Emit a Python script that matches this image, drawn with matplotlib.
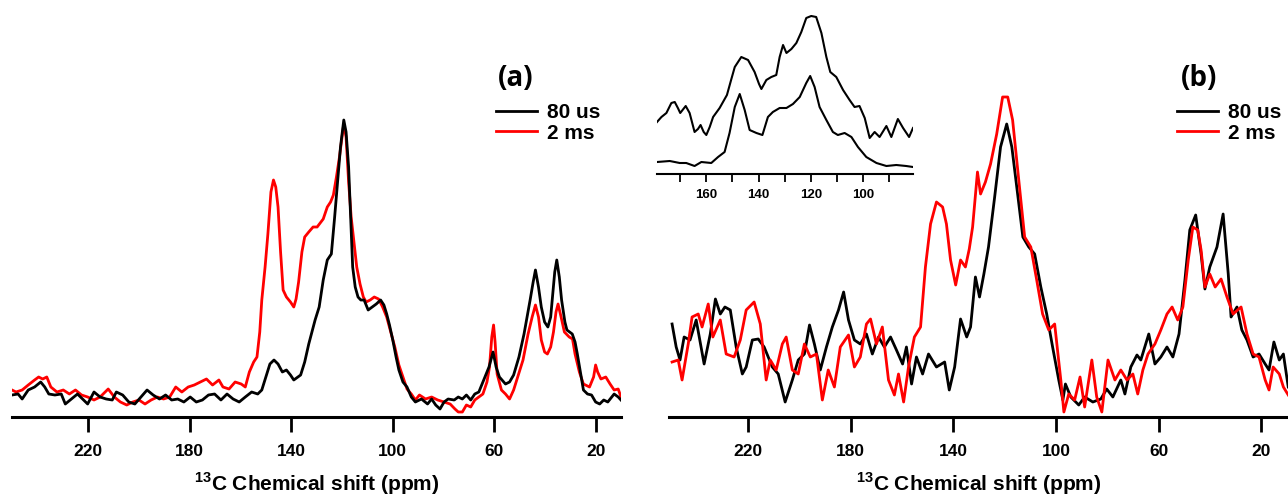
import matplotlib
matplotlib.use("Agg")
import matplotlib.pyplot as plt
from matplotlib.ticker import MultipleLocator

plt.rcParams['font.family'] = ['Liberation Sans', 'DejaVu Sans']
plt.rcParams['font.weight'] = 'bold'
plt.rcParams['mathtext.fontset'] = 'custom'
plt.rcParams['mathtext.rm'] = 'Liberation Sans:bold'
plt.rcParams['mathtext.bf'] = 'Liberation Sans:bold'

# ---- panel (a) : 80 us (black) ----
ppm_a_80 = [250.0, 247.6, 246.0, 243.6, 241.1, 238.7, 237.1, 235.5, 233.1, 230.6, 229.0, 226.6,
            224.2, 221.8, 220.2, 217.7, 215.3, 212.9, 210.5, 208.9, 206.4, 204.0, 201.6, 199.2,
            196.8, 194.4, 191.9, 189.5, 187.1, 184.7, 182.3, 179.8, 177.4, 175.0, 172.6, 170.2,
            167.7, 165.3, 162.9, 160.5, 158.1, 155.6, 153.2, 151.6, 150.0, 148.4, 146.8, 145.2,
            143.5, 141.9, 140.3, 139.0, 136.3, 134.7, 133.1, 130.6, 129.0, 127.4, 125.8, 124.2,
            122.9, 121.8, 120.6, 119.3, 118.4, 117.4, 116.6, 115.8, 114.8, 113.7, 112.6, 111.3,
            109.7, 108.1, 106.5, 104.8, 103.5, 102.4, 101.3, 100.0, 98.7, 97.6, 96.0, 94.4,
            92.7, 91.1, 88.7, 86.3, 84.7, 83.1, 81.4, 79.8, 78.2, 75.8, 74.2, 72.6,
            71.0, 69.3, 67.7, 66.1, 63.7, 62.1, 60.5, 59.3, 58.0, 55.6, 54.0, 52.4,
            50.3, 48.3, 45.9, 44.7, 43.8, 42.6, 41.5, 40.2, 38.9, 37.8, 37.0, 36.2,
            35.4, 34.4, 33.5, 32.2, 31.4, 29.3, 28.2, 27.3, 26.1, 24.9, 23.3, 21.7,
            20.1, 18.5, 16.9, 15.3, 12.8, 11.2, 9.4]
int_a_80 = [22, 23, 18, 27, 30, 35, 30, 23, 22, 23, 13, 18,
            23, 17, 13, 25, 20, 18, 17, 25, 22, 15, 13, 20,
            27, 22, 18, 22, 17, 18, 15, 20, 15, 17, 22, 23,
            17, 23, 18, 15, 20, 25, 23, 27, 40, 53, 57, 53,
            45, 47, 42, 37, 42, 55, 73, 97, 110, 137, 157, 163,
            200, 233, 270, 297, 285, 250, 200, 150, 130, 120, 117, 117,
            107, 110, 113, 117, 112, 103, 92, 77, 60, 47, 35, 30,
            20, 15, 18, 13, 18, 12, 8, 15, 18, 17, 20, 18,
            22, 17, 23, 25, 40, 50, 65, 50, 40, 33, 35, 42,
            60, 83, 117, 135, 147, 130, 110, 95, 90, 100, 123, 145,
            157, 140, 117, 95, 87, 83, 75, 63, 45, 27, 23, 22,
            15, 13, 17, 15, 23, 20, 15]

# ---- panel (a) : 2 ms (red) ----
ppm_a_2 = [250.0, 248.4, 246.0, 243.6, 241.1, 239.5, 237.9, 236.3, 234.7, 232.3, 229.8, 227.4,
           225.0, 222.6, 220.2, 217.7, 215.3, 212.1, 209.7, 207.3, 204.8, 202.4, 200.0, 197.6,
           195.2, 192.7, 190.3, 187.9, 185.5, 183.1, 180.6, 178.2, 175.8, 173.4, 171.0, 168.5,
           166.9, 164.5, 162.1, 159.7, 158.1, 156.5, 154.8, 153.5, 152.4, 151.6, 150.3, 149.2,
           148.0, 147.0, 146.1, 145.2, 144.2, 143.2, 141.9, 140.3, 139.0, 138.1, 137.1, 135.8,
           134.7, 133.1, 131.4, 129.8, 127.4, 125.8, 124.5, 123.4, 122.2, 121.0, 120.0, 119.3,
           118.4, 117.4, 116.4, 115.3, 114.2, 112.9, 111.6, 110.5, 108.9, 107.3, 105.6, 104.0,
           102.4, 100.8, 99.2, 97.6, 96.0, 94.4, 92.7, 91.1, 89.5, 87.1, 84.7, 82.3,
           79.8, 77.4, 75.5, 74.2, 72.6, 71.0, 69.3, 67.7, 66.1, 64.5, 62.9, 61.9,
           61.0, 60.3, 59.7, 58.9, 57.2, 55.6, 54.0, 52.4, 50.8, 48.7, 46.7, 45.1,
           43.8, 42.6, 41.5, 40.2, 39.1, 37.8, 36.7, 35.7, 34.9, 33.7, 32.4, 30.5,
           29.2, 28.2, 26.5, 24.9, 22.5, 20.9, 20.1, 19.3, 18.0, 16.1, 14.4, 12.8,
           11.2, 9.4]
int_a_2 = [27, 25, 27, 32, 37, 40, 38, 40, 30, 25, 27, 23,
           27, 22, 20, 17, 20, 28, 20, 15, 12, 15, 17, 13,
           17, 20, 18, 20, 30, 25, 30, 32, 35, 38, 32, 37,
           30, 28, 35, 33, 30, 45, 55, 60, 85, 117, 150, 183,
           225, 237, 230, 210, 165, 127, 120, 115, 110, 118, 135, 165,
           180, 185, 190, 190, 198, 210, 215, 222, 240, 260, 280, 293,
           280, 235, 200, 175, 150, 133, 120, 115, 117, 120, 118, 110,
           100, 85, 70, 52, 40, 28, 23, 17, 22, 18, 20, 17,
           15, 13, 8, 5, 5, 12, 10, 17, 20, 23, 35, 50,
           80, 92, 75, 43, 27, 23, 18, 27, 40, 57, 83, 100,
           112, 100, 77, 65, 63, 70, 85, 105, 113, 100, 85, 80,
           78, 63, 45, 33, 30, 40, 52, 45, 38, 40, 33, 27,
           28, 15]

# ---- panel (b) : 80 us (black) ----
ppm_b_80 = [249.7, 248.1, 246.6, 245.0, 242.7, 240.3, 237.2, 234.8, 232.8, 230.9, 229.1, 227.0,
            224.7, 222.3, 220.8, 218.4, 216.1, 213.8, 210.6, 208.3, 205.6, 202.8, 200.5, 198.1,
            196.1, 194.2, 191.9, 189.5, 187.2, 184.8, 182.8, 180.9, 178.6, 176.3, 173.9, 171.6,
            169.2, 166.9, 164.5, 162.2, 159.8, 158.3, 156.3, 154.4, 152.0, 149.7, 146.6, 143.4,
            141.6, 139.5, 137.2, 134.8, 133.3, 131.4, 129.8, 128.1, 126.3, 123.9, 121.6, 119.2,
            117.2, 114.8, 112.9, 110.6, 108.3, 105.9, 103.6, 101.3, 98.9, 97.3, 96.3, 94.2,
            91.1, 88.8, 85.6, 82.5, 80.2, 77.8, 74.7, 73.1, 70.8, 68.4, 66.9, 63.8,
            61.4, 59.1, 56.7, 54.4, 52.0, 49.7, 47.8, 45.5, 43.4, 41.9, 40.0, 37.2,
            34.8, 32.8, 31.7, 29.4, 27.5, 25.5, 23.1, 20.8, 18.4, 16.9, 15.0, 12.9,
            11.3, 9.4]
int_b_80 = [93, 70, 57, 80, 77, 97, 53, 83, 118, 103, 110, 107,
            70, 43, 50, 77, 78, 70, 50, 43, 15, 37, 57, 63,
            92, 73, 47, 70, 90, 107, 125, 97, 77, 73, 83, 63,
            80, 70, 80, 67, 53, 70, 33, 60, 43, 63, 50, 55,
            27, 50, 98, 80, 90, 140, 120, 143, 170, 220, 270, 293,
            270, 220, 180, 170, 163, 130, 103, 70, 37, 17, 33, 20,
            12, 20, 15, 18, 28, 20, 37, 23, 50, 62, 57, 83,
            53, 60, 70, 60, 83, 137, 187, 202, 163, 128, 150, 170,
            203, 143, 100, 110, 87, 77, 60, 63, 53, 47, 75, 57,
            63, 30]

# ---- panel (b) : 2 ms (red) ----
ppm_b_2 = [249.7, 247.3, 245.8, 243.4, 241.9, 239.5, 238.0, 235.6, 233.8, 230.9, 228.6, 225.5,
           223.1, 220.8, 217.7, 215.3, 213.0, 211.4, 209.1, 206.7, 205.2, 202.8, 200.5, 198.1,
           195.8, 193.4, 191.1, 188.8, 186.4, 184.1, 180.9, 178.6, 176.3, 173.9, 172.3, 170.0,
           167.7, 165.3, 163.0, 161.4, 159.4, 157.5, 155.2, 152.8, 150.9, 148.9, 146.6, 144.2,
           142.7, 141.1, 139.1, 137.2, 135.3, 133.8, 132.5, 130.6, 129.4, 127.5, 125.5, 123.1,
           120.8, 118.8, 116.9, 114.5, 112.2, 109.8, 107.5, 105.2, 102.8, 100.5, 98.1, 96.9,
           95.0, 92.7, 90.6, 88.8, 86.0, 84.1, 82.1, 79.7, 77.0, 74.7, 72.3, 70.0,
           68.1, 66.1, 64.1, 61.4, 59.1, 56.7, 54.7, 52.5, 50.5, 48.4, 46.6, 44.7,
           43.4, 41.9, 40.0, 37.9, 35.6, 33.3, 30.9, 27.8, 25.5, 23.1, 20.8, 18.4,
           16.9, 15.3, 12.9, 11.3, 9.4]
int_b_2 = [55, 57, 37, 73, 100, 103, 90, 113, 80, 97, 63, 60,
           77, 107, 115, 93, 37, 57, 47, 73, 80, 47, 43, 73,
           60, 63, 17, 47, 30, 70, 82, 50, 60, 93, 98, 73,
           90, 37, 22, 43, 15, 50, 80, 90, 150, 193, 215, 210,
           193, 157, 132, 157, 150, 168, 190, 245, 223, 235, 253, 283,
           320, 320, 297, 237, 180, 170, 137, 103, 87, 93, 37, 5,
           23, 17, 40, 10, 57, 20, 5, 57, 37, 47, 37, 43,
           23, 47, 63, 73, 87, 103, 110, 97, 110, 157, 190, 187,
           167, 130, 143, 130, 138, 120, 103, 110, 83, 63, 60, 37,
           27, 50, 43, 30, 22]

# ---- inset ----
ppm_in_2 = [178.9, 177.2, 175.3, 173.4, 172.1, 170.9, 170.0, 167.9, 166.4, 164.5, 163.2, 162.2,
            161.0, 160.0, 158.7, 157.4, 154.9, 152.1, 150.4, 149.1, 146.6, 144.0, 141.5, 139.8,
            138.9, 137.0, 135.1, 133.2, 131.9, 130.6, 129.3, 127.4, 125.5, 123.6, 121.7, 119.8,
            117.9, 115.9, 114.0, 112.5, 110.2, 107.6, 105.1, 103.2, 101.3, 99.3, 97.4, 95.5,
            93.6, 91.0, 89.1, 86.6, 84.6, 82.3, 80.8]
int_in_2 = [52, 57, 61, 71, 72, 66, 61, 68, 61, 42, 45, 49,
            42, 39, 47, 57, 66, 79, 95, 107, 117, 114, 102, 90,
            85, 94, 97, 99, 117, 129, 121, 125, 131, 142, 156, 158,
            157, 141, 117, 102, 97, 84, 74, 67, 68, 56, 36, 42,
            37, 48, 37, 55, 46, 37, 46]
ppm_in_80 = [178.9, 174.0, 170.2, 167.7, 164.5, 161.9, 158.1, 155.5, 153.0, 151.1, 149.1, 147.2,
             145.3, 143.4, 140.8, 138.5, 136.4, 134.5, 131.9, 129.3, 126.8, 124.2, 121.7, 120.2,
             118.5, 116.6, 114.0, 111.5, 109.6, 107.0, 104.4, 101.9, 98.7, 94.8, 91.0, 87.2,
             83.4, 80.8]
int_in_80 = [12, 13, 11, 11, 8, 12, 11, 17, 22, 41, 67, 80,
             64, 44, 41, 39, 57, 62, 66, 66, 70, 77, 91, 98,
             87, 67, 54, 42, 39, 41, 37, 27, 17, 11, 8, 9,
             8, 7]

main_ticks = [220, 180, 140, 100, 60, 20]
labels = ['80 us', '2 ms']

W, H = 1288, 495
fig = plt.figure(figsize=(W / 100, H / 100), dpi=100)


def style_main(ax, xlim):
    ax.set_xlim(*xlim)
    ax.set_ylim(0, 397)
    for s in ['left', 'right', 'top']:
        ax.spines[s].set_visible(False)
    ax.spines['bottom'].set_linewidth(2.2)
    ax.set_yticks([])
    ax.set_xticks(main_ticks)
    ax.tick_params(axis='x', direction='out', length=11, width=2.0, pad=8.5, labelsize=12.5)
    ax.set_xlabel(r'$^{13}$C Chemical shift (ppm)', fontsize=15, fontweight='bold', labelpad=8)
    ax.patch.set_alpha(0)


ax_a = fig.add_axes([12 / W, 78 / H, 609 / W, 397 / H])
ax_a.plot(ppm_a_2, int_a_2, color='#ff0000', lw=2.0, label=labels[1])
ax_a.plot(ppm_a_80, int_a_80, color='black', lw=2.0, label=labels[0])
style_main(ax_a, (250.0, 10.1))

ax_b = fig.add_axes([669 / W, 78 / H, 619 / W, 397 / H])
ax_b.plot(ppm_b_80, int_b_80, color='black', lw=2.0, label=labels[0])
ax_b.plot(ppm_b_2, int_b_2, color='#ff0000', lw=2.0, label=labels[1])
style_main(ax_b, (250.9, 9.5))

for ax, x0 in [(ax_a, 496), (ax_b, 1177)]:
    h, l = ax.get_legend_handles_labels()
    order = [l.index(labels[0]), l.index(labels[1])]
    ax.legend([h[i] for i in order], [l[i] for i in order], loc='upper left',
              bbox_to_anchor=(x0 / W, 1 - 103 / H), bbox_transform=fig.transFigure,
              frameon=False, borderpad=0, borderaxespad=0, handlelength=1.95,
              handletextpad=0.5, labelspacing=0.08, prop={'size': 15, 'weight': 'bold'})

fig.text(516 / W, 1 - 78 / H, '(a)', family=['Open Sans', 'DejaVu Sans'], fontsize=20,
         fontweight='bold', ha='center', va='center')
fig.text(1199 / W, 1 - 78 / H, '(b)', family=['Open Sans', 'DejaVu Sans'], fontsize=20,
         fontweight='bold', ha='center', va='center')

# inset
ax_in = fig.add_axes([657 / W, 321 / H, 256 / W, 169 / H])
ax_in.plot(ppm_in_2, int_in_2, color='black', lw=1.5)
ax_in.plot(ppm_in_80, int_in_80, color='black', lw=1.5)
ax_in.set_xlim(178.9, 80.8)
ax_in.set_ylim(0, 169)
for s in ['left', 'right', 'top']:
    ax_in.spines[s].set_visible(False)
ax_in.spines['bottom'].set_linewidth(1.5)
ax_in.set_yticks([])
ax_in.xaxis.set_major_locator(MultipleLocator(20))
ax_in.xaxis.set_minor_locator(MultipleLocator(10))
ax_in.tick_params(axis='x', which='both', direction='out', length=6, width=1.3, pad=5,
                  labelsize=9.5)
ax_in.patch.set_alpha(0)

fig.savefig('out.png', dpi=100)
